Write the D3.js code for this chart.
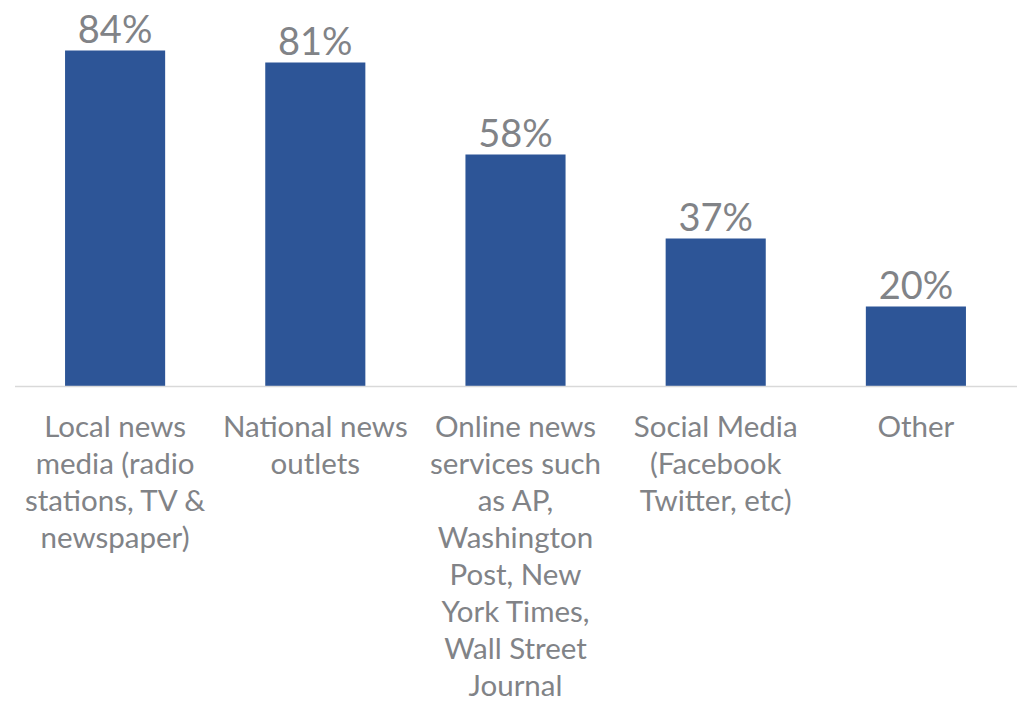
<!DOCTYPE html>
<html><head><meta charset="utf-8">
<script src="https://cdn.jsdelivr.net/npm/d3@7"></script>
<style>body{margin:0;background:#fff}svg{display:block}</style>
</head><body>
<svg id="chart" width="1017" height="701"></svg>
<script>
const categories = ["Local news media", "National news outlets", "Online news services", "Social Media", "Other"];
const values = [84, 81, 58, 37, 20];
const tickLabels = [
  ["Local news", "media (radio", "stations, TV &", "newspaper)"],
  ["National news", "outlets"],
  ["Online news", "services such", "as AP,", "Washington", "Post, New", "York Times,", "Wall Street", "Journal"],
  ["Social Media", "(Facebook", "Twitter, etc)"],
  ["Other"]
];

const svg = d3.select("#chart");
const font = "Lato, 'Open Sans', sans-serif";
const textColor = "#818387";
const x = d3.scaleBand().domain(categories).range([15, 1016]).paddingInner(0.5).paddingOuter(0.25);
const y = d3.scaleLinear().domain([0, 100]).range([386.5, -13.5]);

svg.selectAll("rect.bar").data(values).join("rect")
  .attr("class", "bar")
  .attr("x", (d, i) => x(categories[i]))
  .attr("width", x.bandwidth())
  .attr("y", d => y(d))
  .attr("height", d => y(0) - y(d))
  .attr("fill", "#2D5597");

const axis = svg.append("g").attr("transform", `translate(0,${y(0)})`)
  .call(d3.axisBottom(x).tickSize(0).tickFormat(""));
axis.select(".domain").attr("stroke", "#D9D9D9").attr("stroke-width", 1.5).attr("d", "M15,0H1017");

svg.selectAll("text.val").data(values).join("text")
  .attr("class", "val")
  .attr("x", (d, i) => x(categories[i]) + x.bandwidth() / 2)
  .attr("y", d => y(d) - 8)
  .attr("text-anchor", "middle")
  .attr("font-family", font)
  .attr("font-size", 38)
  .attr("fill", textColor)
  .text(d => d + "%");

const lab = svg.selectAll("text.cat").data(tickLabels).join("text")
  .attr("class", "cat")
  .attr("text-anchor", "middle")
  .attr("font-family", font)
  .attr("font-size", 29.5)
  .attr("fill", textColor);
lab.selectAll("tspan").data((d, i) => d.map(t => ({t, i}))).join("tspan")
  .attr("x", d => x(categories[d.i]) + x.bandwidth() / 2)
  .attr("y", (d, j) => 437 + j * 37)
  .text(d => d.t);
</script>
</body></html>
